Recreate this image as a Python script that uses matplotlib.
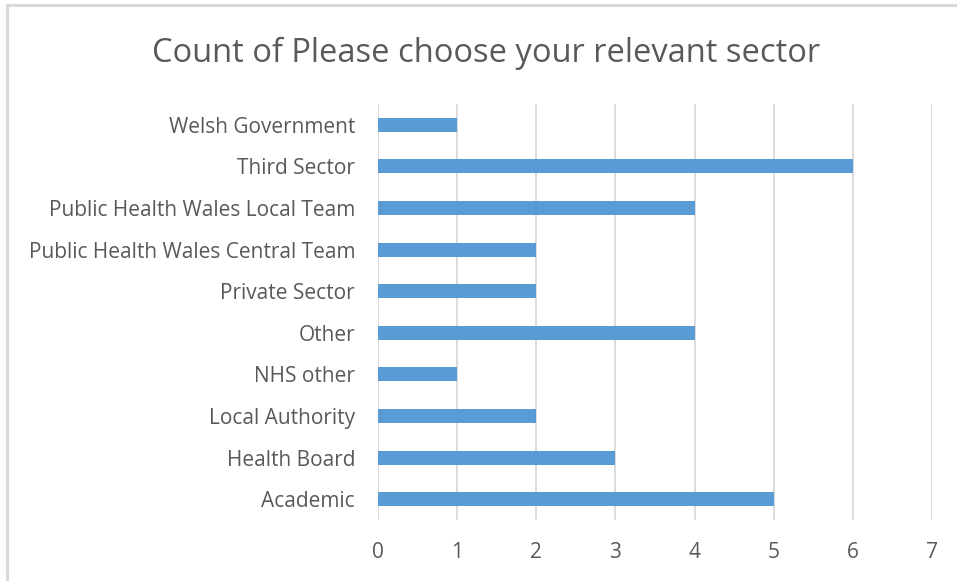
import matplotlib.pyplot as plt
from matplotlib.patches import Rectangle

# Survey responses by sector
sectors = ['Academic', 'Health Board', 'Local Authority', 'NHS other', 'Other',
           'Private Sector', 'Public Health Wales Central Team',
           'Public Health Wales Local Team', 'Third Sector', 'Welsh Government']
counts = [5, 3, 2, 1, 4, 2, 2, 4, 6, 1]
xticks = [0, 1, 2, 3, 4, 5, 6, 7]

plt.rcParams['font.family'] = ['Open Sans', 'DejaVu Sans']
text_color = '#595959'

fig = plt.figure(figsize=(9.57, 5.81), dpi=100)
ax = fig.add_axes([378 / 957, 61 / 581, 554 / 957, 416 / 581])

ax.barh(range(len(sectors)), counts, height=0.34, color='#5B9BD5', zorder=3)

ax.set_xlim(0, 7)
ax.set_ylim(-0.5, len(sectors) - 0.5)
ax.set_xticks(xticks)
ax.set_yticks(range(len(sectors)))
ax.set_yticklabels(sectors)
ax.tick_params(axis='both', length=0, colors=text_color, labelsize=15)
ax.tick_params(axis='y', pad=16.5)
ax.tick_params(axis='x', pad=16)
ax.grid(axis='x', color='#D9D9D9', linewidth=1.3, zorder=0)
for s in ax.spines.values():
    s.set_visible(False)

fig.text(486 / 957, 1 - 53 / 581, 'Count of Please choose your relevant sector',
         ha='center', va='center', fontsize=23.5, color=text_color)

# light border around the chart area
fig.add_artist(Rectangle((7 / 957, -0.05), 1.0, 1 - 5 / 581 + 0.05,
                         transform=fig.transFigure, fill=False,
                         edgecolor='#D9D9D9', linewidth=2.2))

plt.savefig('out.png', dpi=100)
